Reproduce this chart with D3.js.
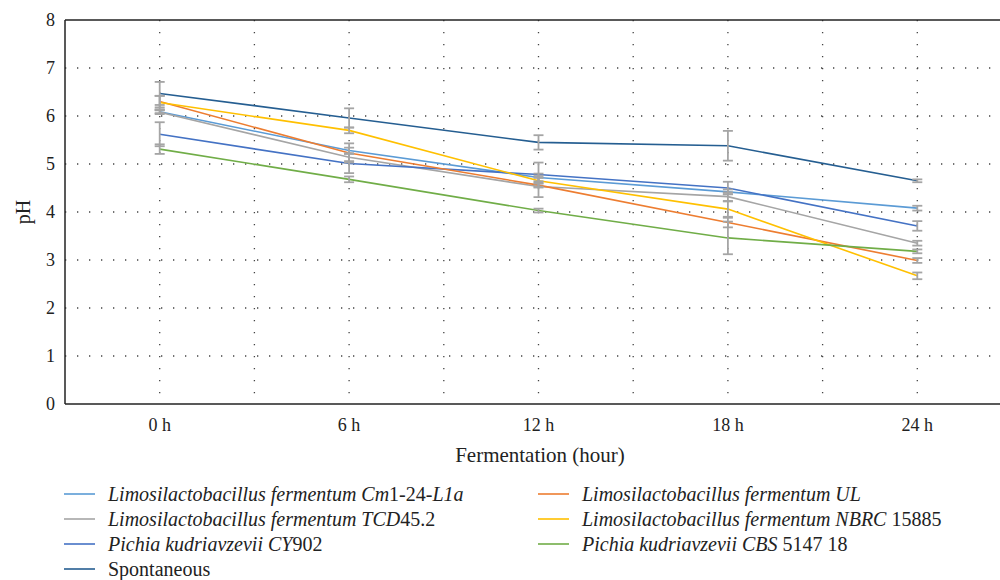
<!DOCTYPE html>
<html>
<head>
<meta charset="utf-8">
<script src="https://cdn.jsdelivr.net/npm/d3@7"></script>
<style>
  body { margin: 0; background: #fff; }
  svg { font-family: "Liberation Serif", "DejaVu Serif", serif; }
</style>
</head>
<body>
<svg id="chart" width="1000" height="580"></svg>
<script>
// time points
var hours = ["0 h", "6 h", "12 h", "18 h", "24 h"];
var yTicks = [0, 1, 2, 3, 4, 5, 6, 7, 8];

// mean pH per strain
var cm1 = [6.09, 5.28, 4.72, 4.42, 4.08];
var tcd = [6.08, 5.14, 4.53, 4.32, 3.35];
var cy902 = [5.62, 5.01, 4.78, 4.50, 3.71];
var spont = [6.47, 5.96, 5.45, 5.38, 4.65];
var ul = [6.30, 5.23, 4.56, 3.78, 2.99];
var nbrc = [6.28, 5.70, 4.65, 4.06, 2.67];
var cbs = [5.31, 4.68, 4.03, 3.46, 3.18];

// error (+/-)
var cm1Err = [0.03, 0.06, 0.08, 0.05, 0.05];
var tcdErr = [0.04, 0.08, 0.22, 0.09, 0.05];
var cy902Err = [0.25, 0.20, 0.25, 0.13, 0.10];
var spontErr = [0.24, 0.20, 0.15, 0.31, 0.03];
var ulErr = [0.12, 0.20, 0.05, 0.10, 0.05];
var nbrcErr = [0.14, 0.06, 0.06, 0.16, 0.07];
var cbsErr = [0.10, 0.06, 0.04, 0.34, 0.04];

var series = [
  {name: [["Limosilactobacillus fermentum Cm", true], ["1-24-", false], ["L1a", true]], values: cm1, err: cm1Err, color: "#5b9bd5"},
  {name: [["Limosilactobacillus fermentum TCD", true], ["45.2", false]], values: tcd, err: tcdErr, color: "#a5a5a5"},
  {name: [["Pichia kudriavzevii CY", true], ["902", false]], values: cy902, err: cy902Err, color: "#4472c4"},
  {name: [["Spontaneous", false]], values: spont, err: spontErr, color: "#255e91"},
  {name: [["Limosilactobacillus fermentum UL", true]], values: ul, err: ulErr, color: "#ed7d31"},
  {name: [["Limosilactobacillus fermentum NBRC ", true], ["15885", false]], values: nbrc, err: nbrcErr, color: "#ffc000"},
  {name: [["Pichia kudriavzevii CBS ", true], ["5147 18", false]], values: cbs, err: cbsErr, color: "#70ad47"}
];

var svg = d3.select("#chart"),
    margin = {top: 20, left: 65},
    width = 947,
    height = 384;

var g = svg.append("g").attr("transform", "translate(" + margin.left + "," + margin.top + ")");

var x = d3.scaleBand().domain(hours).range([0, width]).padding(0);
var y = d3.scaleLinear().domain([0, 8]).range([height, 0]);
var cx = function (h) { return x(h) + x.bandwidth() / 2; };

// dotted grid
g.append("g").selectAll("line")
  .data(yTicks.slice(1, 8))
  .join("line")
  .attr("x1", 0).attr("x2", width)
  .attr("y1", d => y(d)).attr("y2", d => y(d))
  .attr("stroke", "#444").attr("stroke-width", 1.3)
  .attr("stroke-dasharray", "1.3,10.7");

var vgrid = [];
hours.forEach(function (h) { vgrid.push(x(h) + x.bandwidth() / 2); vgrid.push(x(h) + x.bandwidth()); });
g.append("g").selectAll("line")
  .data(vgrid)
  .join("line")
  .attr("x1", d => d).attr("x2", d => d)
  .attr("y1", 0).attr("y2", height)
  .attr("stroke", "#444").attr("stroke-width", 1.3)
  .attr("stroke-dasharray", "1.3,10.7");

// frame
g.append("line").attr("x1", 0).attr("x2", width).attr("y1", 0).attr("y2", 0).attr("stroke", "#222").attr("stroke-width", 1.5);
g.append("line").attr("x1", 0).attr("x2", width).attr("y1", height).attr("y2", height).attr("stroke", "#222").attr("stroke-width", 1.5);
g.append("line").attr("x1", 0).attr("x2", 0).attr("y1", 0).attr("y2", height).attr("stroke", "#222").attr("stroke-width", 1.5);

// axes
var yAxis = g.append("g").call(d3.axisLeft(y).tickValues(yTicks).tickSize(0).tickPadding(10));
yAxis.select(".domain").remove();
yAxis.selectAll("text").attr("font-size", 18).attr("fill", "#222").attr("font-family", "Liberation Serif");

var xAxis = g.append("g").attr("transform", "translate(0," + height + ")")
  .call(d3.axisBottom(x).tickSize(0).tickPadding(14));
xAxis.select(".domain").remove();
xAxis.selectAll("text").attr("font-size", 18).attr("fill", "#222").attr("font-family", "Liberation Serif");

svg.append("text").attr("x", 540).attr("y", 462).attr("text-anchor", "middle")
  .attr("font-size", 21).attr("fill", "#222").text("Fermentation (hour)");
svg.append("text").attr("transform", "translate(30,212) rotate(-90)").attr("text-anchor", "middle")
  .attr("font-size", 20).attr("fill", "#222").text("pH");

// lines
var line = d3.line().x((d, i) => cx(hours[i])).y(d => y(d));
series.forEach(function (s) {
  g.append("path").datum(s.values)
    .attr("fill", "none").attr("stroke", s.color).attr("stroke-width", 1.6)
    .attr("d", line);
});

// error bars
series.forEach(function (s) {
  var eb = g.append("g").attr("stroke", "#a5a5a5").attr("stroke-width", 1.8);
  s.values.forEach(function (v, i) {
    var px = cx(hours[i]);
    eb.append("line").attr("x1", px).attr("x2", px).attr("y1", y(v + s.err[i])).attr("y2", y(v - s.err[i]));
    eb.append("line").attr("x1", px - 5).attr("x2", px + 5).attr("y1", y(v + s.err[i])).attr("y2", y(v + s.err[i]));
    eb.append("line").attr("x1", px - 5).attr("x2", px + 5).attr("y1", y(v - s.err[i])).attr("y2", y(v - s.err[i]));
  });
});

// legend
var legPos = [[64, 494], [64, 519], [64, 544], [64, 569], [538, 494], [538, 519], [538, 544]];
series.forEach(function (s, i) {
  var lg = svg.append("g").attr("transform", "translate(" + legPos[i][0] + "," + legPos[i][1] + ")");
  lg.append("line").attr("x1", 0).attr("x2", 31).attr("y1", 0).attr("y2", 0)
    .attr("stroke", s.color).attr("stroke-width", 1.6);
  var t = lg.append("text").attr("x", 44).attr("y", 6.5).attr("font-size", 20).attr("fill", "#222");
  s.name.forEach(function (p) {
    t.append("tspan").attr("font-style", p[1] ? "italic" : "normal").text(p[0]);
  });
});
</script>
</body>
</html>
